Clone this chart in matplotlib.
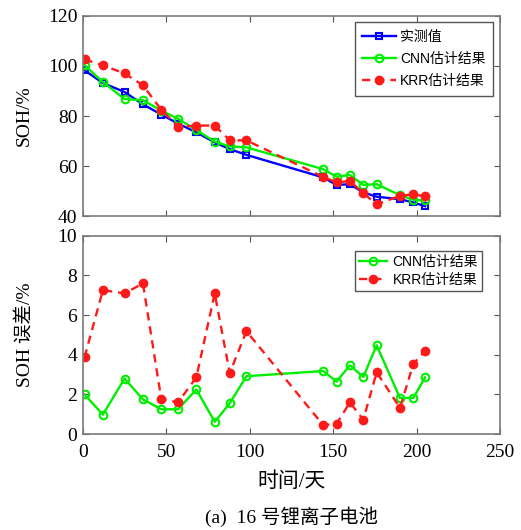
import numpy as np
import matplotlib
matplotlib.use("Agg")
import matplotlib.pyplot as plt

plt.rcParams['font.family'] = ['Liberation Serif', 'Noto Sans CJK SC']

# 时间/天
days = [1, 12, 25, 36, 47, 57, 68, 79, 88, 98, 144, 152, 160, 168, 176, 190, 198, 205]

# SOH/%
soh_true = [98.3, 93.2, 89.6, 84.7, 80.6, 77.0, 73.5, 69.5, 66.8, 64.5,
            55.5, 52.5, 52.8, 49.5, 47.8, 46.8, 45.5, 44.0]
soh_cnn = [100.3, 93.6, 86.8, 86.3, 82.2, 78.9, 74.4, 69.8, 67.9, 67.5,
           58.8, 55.8, 56.5, 52.5, 52.8, 48.4, 46.6, 46.3]
soh_krr = [102.6, 100.3, 97.0, 92.3, 82.5, 75.8, 76.2, 76.2, 70.3, 70.3,
           55.7, 53.5, 54.1, 49.2, 44.8, 48.1, 48.8, 47.9]

# SOH 误差/%
err_cnn = [2.0, 0.98, 2.8, 1.75, 1.25, 1.25, 2.25, 0.62, 1.55, 2.92,
           3.18, 2.65, 3.47, 2.88, 4.48, 1.82, 1.82, 2.86]
err_krr = [3.87, 7.26, 7.1, 7.6, 1.76, 1.6, 2.86, 7.1, 3.08, 5.19,
           0.45, 0.52, 1.6, 0.72, 3.12, 1.32, 3.55, 4.18]

labels_top = ['实测值', 'CNN估计结果', 'KRR估计结果']
labels_bot = ['CNN估计结果', 'KRR估计结果']

fig = plt.figure(figsize=(5.21, 5.30), dpi=100)
ax1 = fig.add_axes([0.159, 0.592, 0.801, 0.378])
ax2 = fig.add_axes([0.159, 0.181, 0.801, 0.374])

blue = '#0000ff'
green = '#00ee00'
red = '#ff1a1a'
dash = (3.5, 2.5)

ax1.plot(days, soh_true, '-s', color=blue, lw=1.7, ms=5, mfc='none', mew=1.5, label=labels_top[0])
ax1.plot(days, soh_cnn, '-o', color=green, lw=1.7, ms=5.5, mfc='none', mew=1.5, label=labels_top[1])
ax1.plot(days, soh_krr, '--o', color=red, lw=1.7, ms=6, mfc=red, mew=1, label=labels_top[2], dashes=dash)

ax2.plot(days, err_cnn, '-o', color=green, lw=1.7, ms=5.5, mfc='none', mew=1.5, label=labels_bot[0])
ax2.plot(days, err_krr, '--o', color=red, lw=1.7, ms=6, mfc=red, mew=1, label=labels_bot[1], dashes=dash)

for ax in (ax1, ax2):
    ax.set_xlim(0, 250)
    ax.set_xticks([0, 50, 100, 150, 200, 250])
    ax.tick_params(direction='in', top=True, right=True, length=4, color='#555555',
                   labelsize=14, pad=4)
    for s in ax.spines.values():
        s.set_color('#7a7a7a')
        s.set_linewidth(1.2)

ax1.set_ylim(40, 120)
ax1.set_yticks([40, 60, 80, 100, 120])
ax1.set_xticklabels([])
ax2.set_ylim(0, 10)
ax2.set_yticks([0, 2, 4, 6, 8, 10])
ax2.tick_params(axis='x', pad=7)

leg_font = {'family': ['Liberation Sans', 'Noto Sans CJK SC'], 'size': 10}
l1 = ax1.legend(loc='upper right', bbox_to_anchor=(0.983, 0.97), prop=leg_font, fancybox=False,
                edgecolor='#555555', framealpha=1, handlelength=2.4, handletextpad=0.3,
                borderpad=0.55, borderaxespad=0, labelspacing=0.6)
l2 = ax2.legend(loc='upper right', bbox_to_anchor=(0.957, 0.925), prop=leg_font, fancybox=False,
                edgecolor='#555555', framealpha=1, handlelength=2.0, handletextpad=0.4,
                borderpad=0.3, borderaxespad=0, labelspacing=0.3)
for l in (l1, l2):
    l.get_frame().set_linewidth(1.0)

ax1.set_ylabel('SOH/%', fontsize=14, labelpad=10.5)
ax2.set_ylabel('SOH 误差/%', fontsize=14, labelpad=16.5)
ax2.set_xlabel('时间/天', fontsize=15, labelpad=8)

fig.text(0.559, 0.0245, '(a)  16 号锂离子电池', ha='center', va='center', fontsize=14)

fig.savefig('out.png', dpi=100)
